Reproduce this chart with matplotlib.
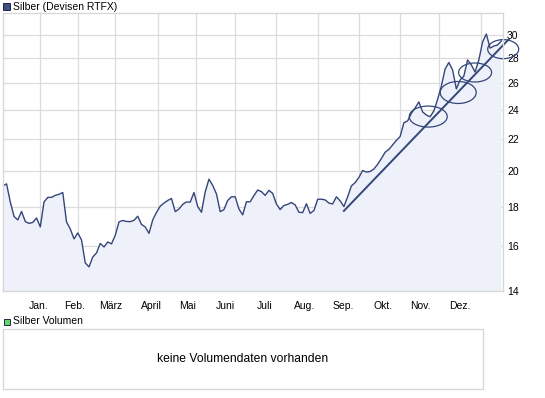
import numpy as np
import pandas as pd
import matplotlib
matplotlib.use("Agg")
import matplotlib.pyplot as plt
import matplotlib.transforms as mtransforms
from matplotlib.patches import Ellipse, Rectangle
from matplotlib.ticker import FixedLocator, FixedFormatter, NullLocator

plt.rcParams['font.family'] = ['Liberation Sans', 'DejaVu Sans']

# trading calendar of the chart
first_day = '2009-12-03'
last_day = '2010-12-17'
holidays = ['2009-12-25', '2010-01-01', '2010-04-02', '2010-04-05']

# silver price (USD), every second trading day
price = [
    19.14, 19.26, 18.25, 17.48, 17.30, 17.74, 17.22, 17.12, 17.17, 17.40,
    16.94, 18.25, 18.50, 18.50, 18.61, 18.67, 18.77, 17.20, 16.84, 16.35,
    16.64, 16.30, 15.22, 15.04, 15.49, 15.68, 16.13, 15.96, 16.20, 16.11,
    16.52, 17.20, 17.27, 17.22, 17.21, 17.28, 17.49, 17.07, 16.94, 16.62,
    17.30, 17.69, 18.02, 18.19, 18.33, 18.44, 17.73, 17.87, 18.12, 18.25,
    18.24, 18.77, 18.00, 17.70, 18.80, 19.53, 19.17, 18.69, 17.73, 17.84,
    18.33, 18.53, 18.53, 17.87, 17.56, 18.26, 18.26, 18.60, 18.91, 18.82,
    18.61, 18.89, 18.72, 18.14, 17.84, 18.06, 18.12, 18.22, 18.09, 17.70,
    17.68, 18.15, 17.64, 17.79, 18.39, 18.40, 18.36, 18.19, 18.14, 18.53,
    18.31, 18.00, 18.53, 19.14, 19.33, 19.63, 20.04, 19.95, 19.98, 20.13,
    20.41, 20.77, 21.16, 21.34, 21.63, 21.92, 22.17, 23.10, 23.23, 23.76,
    24.14, 24.58, 23.86, 23.64, 23.52, 23.93, 24.76, 25.77, 27.11, 27.64,
    27.03, 25.55, 26.24, 26.55, 27.85, 27.44, 26.87, 27.85, 29.38, 30.09,
    28.85, 29.03, 29.12, 29.47,
]

month_names = ['Jan.', 'Feb.', 'März', 'April', 'Mai', 'Juni',
               'Juli', 'Aug.', 'Sep.', 'Okt.', 'Nov.', 'Dez.']
month_starts = ['2010-%02d-01' % m for m in range(1, 13)]
y_ticks = [14, 16, 18, 20, 22, 24, 26, 28, 30]

# hand drawn trend line and circles on the chart
trend_dates = ['2010-08-20', '2010-12-22']
trend_price = [17.77, 29.62]
circle_dates = ['2010-10-22', '2010-11-15', '2010-11-26', '2010-12-17']
circle_price = [23.53, 25.28, 26.83, 28.76]


def trading_pos(dates):
    d = np.array(dates, dtype='datetime64[D]')
    return np.busday_count(np.datetime64(first_day), d, holidays=holidays)


days = pd.bdate_range(first_day, last_day, freq='C', holidays=holidays)
x = trading_pos(days.values.astype('datetime64[D]'))[::2]
month_pos = trading_pos(month_starts)

W, H = 545, 398
line_col = '#34467a'
grid_col = '#dcdcdc'

fig = plt.figure(figsize=(W / 100, H / 100), dpi=100)
fig.patch.set_facecolor('white')


def fpos(px, py):
    return px / W, 1 - py / H


ax = fig.add_axes([2.8 / W, 1 - 291 / H, 500.4 / W, 277.7 / H])
ax.fill_between(x, price, 1, color='#eef1fa', lw=0)
ax.plot(x, price, color=line_col, lw=1.0)

ax.set_yscale('log')
ax.set_ylim(14, 32)
ax.set_xlim(0, len(days) - 1)
ax.yaxis.set_major_locator(FixedLocator(y_ticks))
ax.yaxis.set_major_formatter(FixedFormatter([str(v) for v in y_ticks]))
ax.yaxis.set_minor_locator(NullLocator())
ax.yaxis.tick_right()
ax.tick_params(axis='y', length=0, pad=2.8, labelsize=7.5, colors='black')

ax.set_xticks(month_pos)
ax.set_xticklabels([])
# the source puts its month names a little left of the grid lines
ax.set_xticks(month_pos * 0.957, minor=True)
ax.set_xticklabels(month_names, minor=True)
ax.tick_params(axis='x', which='both', length=0, pad=7, labelsize=7.5)

ax.grid(True, which='major', color=grid_col, lw=0.9)
ax.set_axisbelow(True)
for s in ax.spines.values():
    s.set_color('#d6d6d6')
    s.set_linewidth(0.9)

# trend line and circles
ax.plot(trading_pos(trend_dates), trend_price, color=line_col, lw=1.4, clip_on=False)
circle_px = [(38, 21), (36, 22), (33, 19), (31, 19)]
for d, p, (w, h) in zip(circle_dates, circle_price, circle_px):
    t = fig.dpi_scale_trans + mtransforms.ScaledTranslation(trading_pos([d])[0], p, ax.transData)
    ax.add_artist(Ellipse((0, 0), w / 100, h / 100, transform=t, fill=False,
                          ec=line_col, lw=0.9, clip_on=False))

# header legend
fig.add_artist(Rectangle(fpos(3, 10), 7 / W, 7 / H, transform=fig.transFigure,
                         fc='#3e5182', ec='#1e2a44', lw=0.7))
fig.text(*fpos(13, 6.5), 'Silber (Devisen RTFX)', fontsize=7.5, va='center', ha='left')

# volume panel
fig.add_artist(Rectangle(fpos(3.5, 325), 6.5 / W, 6.5 / H, transform=fig.transFigure,
                         fc='#66d466', ec='#1e2a44', lw=0.7))
fig.text(*fpos(13, 321.5), 'Silber Volumen', fontsize=7.5, va='center', ha='left')
fig.add_artist(Rectangle(fpos(3, 389), 480 / W, 60 / H, transform=fig.transFigure,
                         fc='white', ec='#d6d6d6', lw=0.9))
fig.text(*fpos(242.5, 359), 'keine Volumendaten vorhanden', fontsize=8.7,
         va='center', ha='center')

fig.savefig('out.png', dpi=100)
